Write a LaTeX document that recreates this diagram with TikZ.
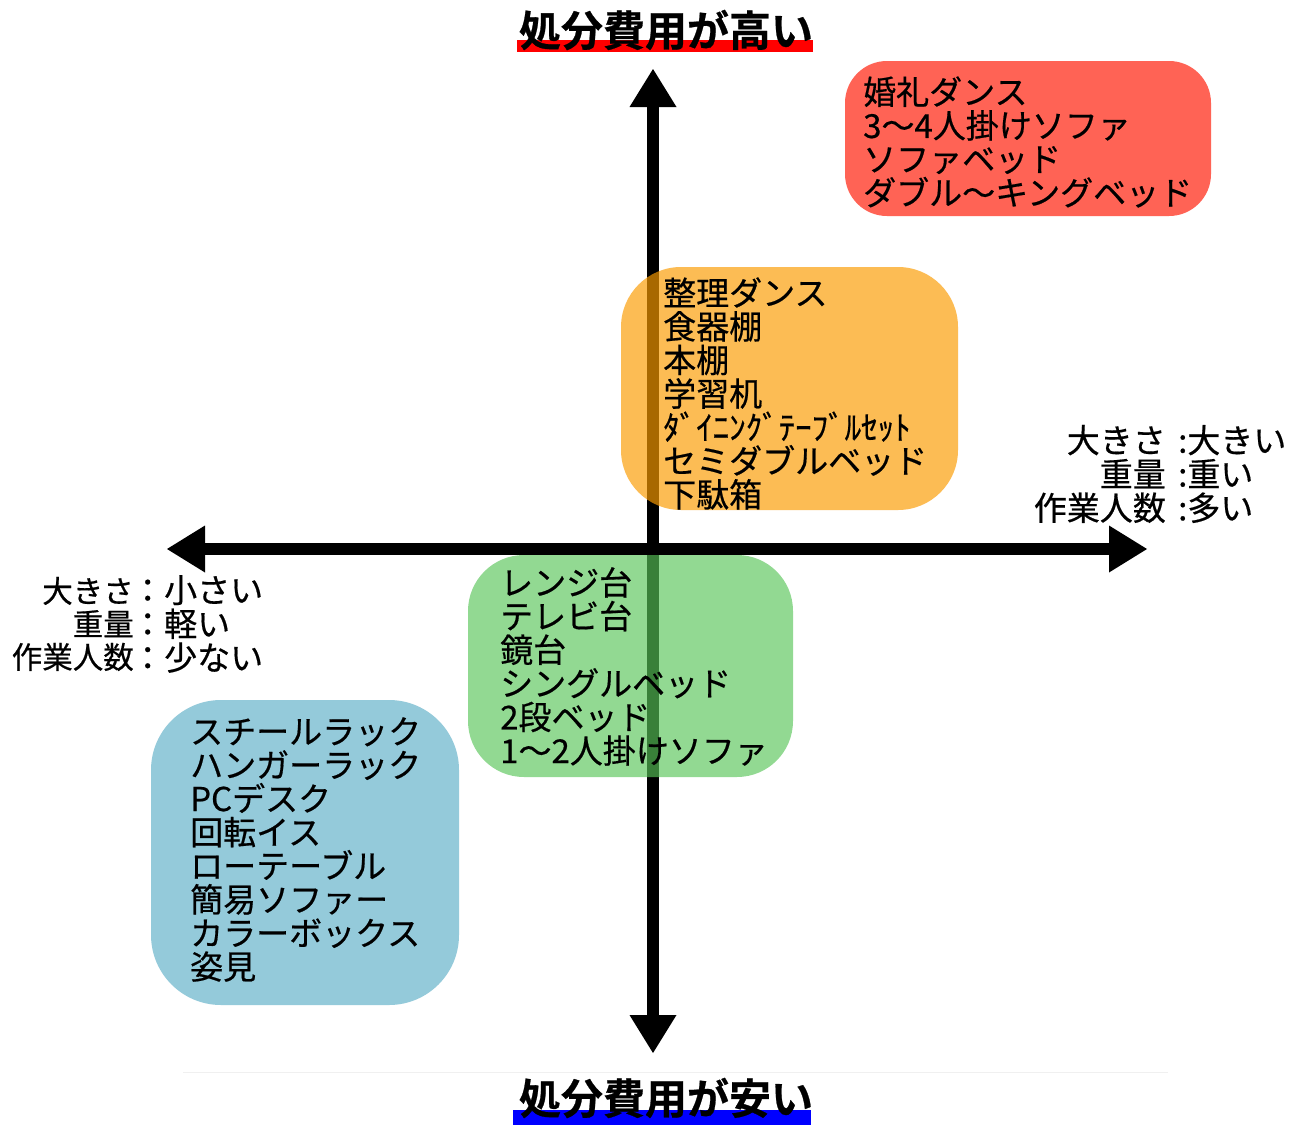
\documentclass[tikz,border=0pt]{standalone}
\usepackage{fontspec}
\setmainfont{Noto Sans CJK JP}
\newfontfamily\itemfont[FakeBold=0.5]{Noto Sans CJK JP}
\newfontfamily\titlefont[FakeBold=0.6]{Noto Sans CJK JP Bold}
\usetikzlibrary{arrows.meta}
\definecolor{redbox}{RGB}{255,99,85}
\definecolor{bluebox}{RGB}{148,202,218}
\definecolor{orangebox}{RGB}{252,156,0}
\definecolor{greenbox}{RGB}{88,197,88}
\definecolor{titlered}{RGB}{255,0,0}
\definecolor{titleblue}{RGB}{0,0,255}
\begin{document}
\begin{tikzpicture}[x=1pt,y=-1pt,
  axis/.style={line width=12pt,
    {Triangle[length=38pt,width=47pt,line width=0pt]}-{Triangle[length=38pt,width=47pt,line width=0pt]}},
  itemlist/.style={anchor=west,align=left,inner sep=0pt,
    font=\itemfont\fontsize{33}{33.6}\selectfont},
  axislabel/.style={inner sep=0pt,font=\itemfont\fontsize{33}{33.8}\selectfont},
  smalllabel/.style={inner sep=0pt,font=\itemfont\fontsize{30.5}{33}\selectfont},
  titletext/.style={inner sep=0pt,font=\titlefont\fontsize{42}{46}\selectfont}]
\useasboundingbox (0,0) rectangle (1301,1135);
\fill[white] (0,0) rectangle (1301,1135);

% title bars
\fill[titlered] (517,40) rectangle (813,52);
\fill[titleblue] (513,1110) rectangle (811,1125);
\draw[black!6,line width=1pt] (183,1072) -- (1168,1072);

% axes
\coordinate (top) at (653,69);
\coordinate (bottom) at (653,1053);
\coordinate (left) at (167,549);
\coordinate (right) at (1147,549);
\draw[axis] (top) -- (bottom);
\draw[axis] (left) -- (right);

% groups
\fill[redbox, rounded corners=42pt] (845,61) rectangle (1211,216);
\fill[orangebox, fill opacity=0.67, rounded corners=60pt] (621,267) rectangle (958,510);
\fill[greenbox, fill opacity=0.65, rounded corners=56pt] (468,555) rectangle (793,777);
\fill[bluebox, rounded corners=70pt] (151,700) rectangle (459,1005);

% item lists
\node[itemlist] (redlist) at (863,142) {婚礼ダンス\\3〜4人掛けソファ\\ソファベッド\\ダブル〜キングベッド};
\node[itemlist] (orangelist) at (663,393.5) {整理ダンス\\食器棚\\本棚\\学習机\\ﾀﾞｲﾆﾝｸﾞﾃｰﾌﾞﾙｾｯﾄ\\セミダブルベッド\\下駄箱};
\node[itemlist] (greenlist) at (500,666.5) {レンジ台\\テレビ台\\鏡台\\シングルベッド\\2段ベッド\\1〜2人掛けソファ};
\node[itemlist] (bluelist) at (190,849.5) {スチールラック\\ハンガーラック\\PCデスク\\回転イス\\ローテーブル\\簡易ソファー\\カラーボックス\\姿見};

% axis labels
\node[axislabel, anchor=east, align=right] (rightkeys) at (1166,474) {大きさ\\重量\\作業人数};
\node[axislabel, anchor=west, align=left] (rightvals) at (1178,474) {:大きい\\:重い\\:多い};
\node[smalllabel, anchor=east, align=right] (leftkeys) at (134,624) {大きさ\\重量\\作業人数};
\node[axislabel, anchor=west, align=left] (leftvals) at (131,624) {：小さい\\：軽い\\：少ない};

% titles
\node[titletext] (hightitle) at (666,30) {処分費用が高い};
\node[titletext] (lowtitle) at (666,1098) {処分費用が安い};
\end{tikzpicture}
\end{document}
